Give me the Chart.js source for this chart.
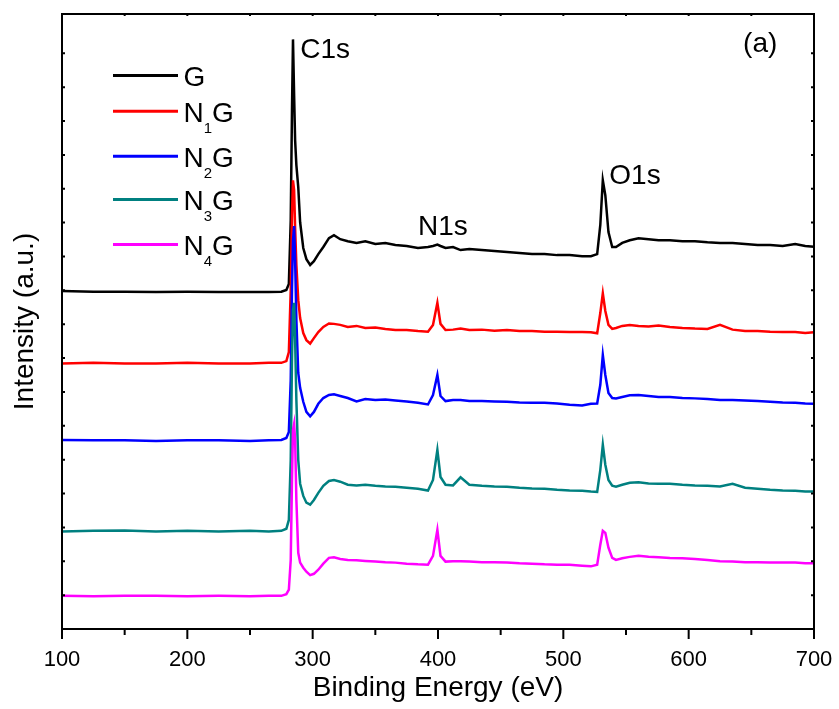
<!DOCTYPE html>
<html>
<head>
<meta charset="utf-8">
<script src="https://cdn.jsdelivr.net/npm/chart.js@4.4.1/dist/chart.umd.min.js"></script>
<style>
  html, body { margin: 0; padding: 0; background: #fff; overflow: hidden; }
  canvas { display: block; }
</style>
</head>
<body>
<canvas id="xps" width="839" height="709"></canvas>
<script>
// binding energy (eV), shared by all spectra
const energy = [
  100, 125, 150, 175, 200, 225, 250, 265, 275, 279,
  281, 282.5, 283.5, 284.3, 285.2, 286, 287, 288.5, 290, 292.5,
  295, 298, 301, 304.5, 308.5, 313, 317, 322, 328, 335,
  342, 350, 358, 366, 375, 384, 392, 396, 399.5, 402,
  406, 412, 418, 425, 435, 445, 455, 465, 475, 485,
  495, 505, 515, 522, 527, 529.5, 531.5, 533.5, 536, 539,
  542, 547, 553, 560, 568, 576, 585, 595, 605, 615,
  625, 635, 645, 655, 665, 675, 685, 693, 700
]

// intensities (a.u., spectra stacked with offsets as plotted)
const intensityG = [
  9.98, 9.96, 9.96, 9.95, 9.96, 9.95, 9.95, 9.95, 9.96, 10.01,
  10.19, 12.07, 15.32, 17.41, 15.76, 14.43, 13.70, 13.05, 12.01, 11.25,
  10.92, 10.75, 10.86, 11.07, 11.28, 11.54, 11.63, 11.51, 11.45, 11.40,
  11.45, 11.37, 11.40, 11.34, 11.31, 11.25, 11.28, 11.31, 11.35, 11.31,
  11.25, 11.28, 11.19, 11.22, 11.19, 11.16, 11.13, 11.10, 11.07, 11.07,
  11.04, 11.04, 11.01, 11.01, 11.07, 11.93, 13.25, 12.81, 11.72, 11.28,
  11.28, 11.40, 11.48, 11.54, 11.51, 11.48, 11.48, 11.45, 11.45, 11.42,
  11.40, 11.40, 11.37, 11.34, 11.34, 11.31, 11.37, 11.31, 11.29
]
const intensityN1G = [
  7.84, 7.86, 7.84, 7.84, 7.86, 7.84, 7.84, 7.86, 7.86, 7.91,
  8.18, 10.01, 12.22, 13.25, 12.96, 11.84, 10.75, 9.71, 9.18, 8.74,
  8.53, 8.43, 8.59, 8.77, 8.92, 9.02, 9.01, 8.98, 8.92, 8.95,
  8.89, 8.90, 8.86, 8.83, 8.83, 8.80, 8.78, 8.98, 9.63, 9.01,
  8.83, 8.84, 8.87, 8.83, 8.84, 8.81, 8.83, 8.80, 8.80, 8.78,
  8.78, 8.77, 8.77, 8.76, 8.73, 9.33, 9.91, 9.39, 8.98, 8.86,
  8.89, 8.95, 8.98, 8.95, 8.93, 8.96, 8.92, 8.89, 8.87, 8.86,
  8.98, 8.84, 8.80, 8.80, 8.78, 8.77, 8.77, 8.74, 8.76
]
const intensityN2G = [
  5.58, 5.57, 5.57, 5.55, 5.57, 5.57, 5.55, 5.57, 5.58, 5.64,
  5.82, 7.35, 10.01, 11.48, 11.90, 10.89, 9.12, 7.56, 7.12, 6.71,
  6.41, 6.28, 6.41, 6.65, 6.82, 6.91, 6.93, 6.88, 6.82, 6.72,
  6.79, 6.76, 6.78, 6.75, 6.72, 6.68, 6.63, 6.91, 7.50, 6.88,
  6.73, 6.76, 6.76, 6.73, 6.73, 6.72, 6.71, 6.69, 6.68, 6.68,
  6.66, 6.62, 6.60, 6.65, 6.66, 7.21, 8.09, 7.50, 6.97, 6.82,
  6.81, 6.85, 6.90, 6.91, 6.88, 6.85, 6.85, 6.82, 6.81, 6.79,
  6.76, 6.76, 6.75, 6.73, 6.71, 6.69, 6.68, 6.66, 6.65
]
const intensityN3G = [
  2.88, 2.90, 2.91, 2.88, 2.90, 2.88, 2.90, 2.88, 2.90, 2.96,
  3.22, 4.99, 7.94, 9.42, 9.63, 8.53, 6.76, 4.99, 4.29, 3.93,
  3.73, 3.67, 3.81, 4.02, 4.23, 4.37, 4.40, 4.35, 4.26, 4.24,
  4.26, 4.23, 4.21, 4.20, 4.17, 4.14, 4.09, 4.40, 5.29, 4.49,
  4.26, 4.24, 4.48, 4.26, 4.23, 4.21, 4.20, 4.17, 4.15, 4.14,
  4.11, 4.09, 4.08, 4.06, 4.05, 4.70, 5.44, 4.85, 4.40, 4.23,
  4.20, 4.26, 4.32, 4.33, 4.30, 4.29, 4.29, 4.26, 4.24, 4.23,
  4.21, 4.29, 4.17, 4.14, 4.11, 4.09, 4.08, 4.06, 4.06
]
const intensityN4G = [
  0.98, 0.97, 0.98, 0.98, 0.97, 0.98, 0.97, 0.98, 0.98, 1.03,
  1.16, 2.04, 4.40, 5.88, 6.06, 5.58, 3.81, 2.25, 1.96, 1.81,
  1.69, 1.59, 1.63, 1.75, 1.93, 2.10, 2.12, 2.07, 2.04, 2.03,
  2.01, 1.99, 1.97, 1.96, 1.93, 1.91, 1.90, 2.16, 2.93, 2.16,
  1.99, 2.00, 2.00, 1.99, 1.97, 1.97, 1.96, 1.94, 1.93, 1.91,
  1.90, 1.90, 1.87, 1.85, 1.90, 2.49, 2.90, 2.84, 2.40, 2.10,
  2.04, 2.09, 2.13, 2.16, 2.13, 2.12, 2.10, 2.09, 2.07, 2.04,
  2.00, 1.99, 1.97, 1.97, 1.96, 1.96, 1.96, 1.94, 1.94
]

const sampleNames = ['G', 'N1G', 'N2G', 'N3G', 'N4G']
const sampleSubscripts = ['', '1', '2', '3', '4']
const sampleColors = ['#000000', '#ff0000', '#0000ff', '#008080', '#ff00ff']
const sampleData = [intensityG, intensityN1G, intensityN2G, intensityN3G, intensityN4G]

const peakNames = ['C1s', 'N1s', 'O1s', '(a)']
const xTickValues = [100, 200, 300, 400, 500, 600, 700]

const FONT = "'Liberation Sans', Arial, Helvetica, sans-serif"
Chart.defaults.font.family = FONT
Chart.defaults.color = '#000'

// label anchors in data units (eV, a.u.): left edge and baseline
const peakAnchors = [[290.1, 16.85], [384, 11.62], [536.7, 13.13], [643.4, 17.05]]
// legend baselines in pixels
const legendBaselines = [86, 121.7, 166.7, 210, 255]

const decorations = {
  id: 'decorations',
  afterDraw (chart) {
    const { ctx, chartArea: a, scales: { x, y } } = chart
    ctx.save()
    ctx.strokeStyle = '#000'
    ctx.lineWidth = 2
    ctx.strokeRect(a.left, a.top, a.right - a.left, a.bottom - a.top)

    ctx.beginPath()
    for (let e = 100; e <= 700; e += 50) {
      const px = x.getPixelForValue(e)
      ctx.moveTo(px, a.bottom)
      ctx.lineTo(px, a.bottom + (e % 100 === 0 ? 10 : 6))
      ctx.moveTo(px, a.top)
      ctx.lineTo(px, a.top + 2)
    }
    y.ticks.forEach((t) => {
      const py = y.getPixelForValue(t.value)
      ctx.moveTo(a.left, py)
      ctx.lineTo(a.left + 3, py)
      ctx.moveTo(a.right, py)
      ctx.lineTo(a.right - 3, py)
    })
    ctx.stroke()

    // peak labels
    ctx.fillStyle = '#000'
    ctx.textAlign = 'left'
    ctx.textBaseline = 'alphabetic'
    ctx.font = `28px ${FONT}`
    peakNames.forEach((name, i) => {
      const [e, v] = peakAnchors[i]
      ctx.fillText(name, x.getPixelForValue(e), y.getPixelForValue(v))
    })

    // legend with subscripts
    sampleNames.forEach((name, i) => {
      const base = legendBaselines[i]
      ctx.strokeStyle = sampleColors[i]
      ctx.lineWidth = 3
      ctx.beginPath()
      ctx.moveTo(113, base - 10.5)
      ctx.lineTo(178, base - 10.5)
      ctx.stroke()
      ctx.font = `28px ${FONT}`
      let tx = 183.5
      if (sampleSubscripts[i]) {
        ctx.fillText('N', tx, base)
        tx += ctx.measureText('N').width
        ctx.font = `15px ${FONT}`
        ctx.fillText(sampleSubscripts[i], tx, base + 11)
        tx += ctx.measureText(sampleSubscripts[i]).width
        ctx.font = `28px ${FONT}`
        ctx.fillText('G', tx, base)
      } else {
        ctx.fillText(name, tx, base)
      }
    })
    ctx.restore()
  }
}

new Chart(document.getElementById('xps'), {
  type: 'line',
  data: {
    datasets: sampleNames.map((name, i) => ({
      label: name,
      data: energy.map((e, k) => ({ x: e, y: sampleData[i][k] })),
      borderColor: sampleColors[i],
      borderWidth: 2.5,
      pointRadius: 0,
      tension: 0,
      fill: false,
      order: sampleNames.length - i
    }))
  },
  options: {
    responsive: false,
    animation: false,
    events: [],
    layout: { padding: { top: 14, right: 25, left: 0, bottom: 0 } },
    plugins: {
      legend: { display: false },
      tooltip: { enabled: false }
    },
    scales: {
      x: {
        type: 'linear',
        min: 100,
        max: 700,
        afterFit: (scale) => {
          scale.height = 80
          scale.paddingLeft = 0
          scale.paddingRight = 0
        },
        afterBuildTicks: (scale) => { scale.ticks = xTickValues.map((v) => ({ value: v })) },
        grid: { display: false, drawTicks: false },
        border: { display: false },
        ticks: { font: { size: 22 }, padding: 18, maxRotation: 0, color: '#000' },
        title: { display: true, text: 'Binding Energy (eV)', font: { size: 28 }, padding: { top: 0, bottom: 4 }, color: '#000' }
      },
      y: {
        type: 'linear',
        min: 0,
        max: 18.16,
        afterFit: (scale) => {
          scale.width = 62
          scale.paddingTop = 0
          scale.paddingBottom = 0
        },
        afterBuildTicks: (scale) => { scale.ticks = scale.ticks.filter((t) => Number.isInteger(t.value)) },
        grid: { display: false, drawTicks: false },
        border: { display: false },
        ticks: { display: false, stepSize: 1 },
        title: { display: true, text: 'Intensity (a.u.)', font: { size: 28 }, padding: { top: 8, bottom: 0 }, color: '#000' }
      }
    }
  },
  plugins: [decorations]
})
</script>
</body>
</html>
